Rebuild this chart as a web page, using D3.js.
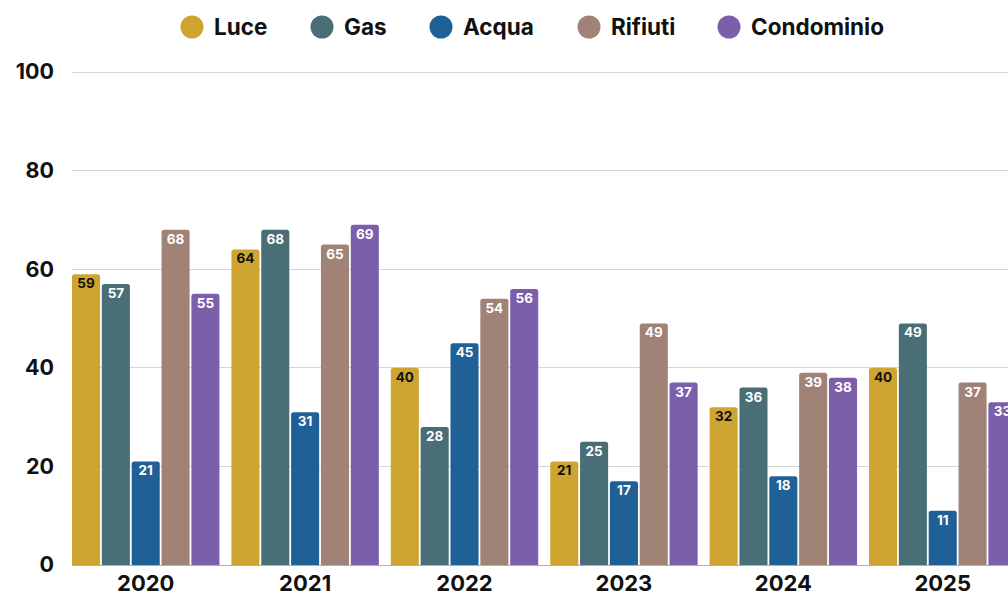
<!DOCTYPE html>
<html><head><meta charset="utf-8">
<script src="https://cdn.jsdelivr.net/npm/d3@7"></script>
<style>body{margin:0;background:#fff;overflow:hidden}svg{display:block;font-family:Inter,"DejaVu Sans",sans-serif}</style>
</head><body><svg id="c" width="1008" height="593"></svg>
<script>
const years = ["2020","2021","2022","2023","2024","2025"];
const seriesNames = ["Luce","Gas","Acqua","Rifiuti","Condominio"];
const colors = ["#CFA532","#4A6E75","#1F6096","#A08277","#7B5FAA"];
const luce = [59,64,40,21,32,40];
const gas = [57,68,28,25,36,49];
const acqua = [21,31,45,17,18,11];
const rifiuti = [68,65,54,49,39,37];
const condominio = [55,69,56,37,38,33];
const yTicks = [0,20,40,60,80,100];
const allSeries = [luce,gas,acqua,rifiuti,condominio];

(function(){
const svg = d3.select("#c");
const mLeft = 72, mTop = 72, mBottom = 565, step = 159.4, pIn = 0.075;
const x0 = d3.scaleBand().domain(years).range([mLeft, mLeft + step*(years.length - pIn)]).paddingInner(pIn).paddingOuter(0);
const x1 = d3.scaleBand().domain(seriesNames).range([0, x0.bandwidth()]).paddingInner(0.06);
const y = d3.scaleLinear().domain([0,100]).range([mBottom, mTop]);

svg.append("g").selectAll("line").data(yTicks).join("line")
  .attr("x1", mLeft).attr("x2", 1008).attr("y1", d=>y(d)).attr("y2", d=>y(d))
  .attr("stroke", d=> d===0 ? "#b0b0b0" : "#d6d6d6").attr("stroke-width",1).attr("shape-rendering","crispEdges");

const yAxis = d3.axisLeft(y).tickValues(yTicks).tickSize(0).tickPadding(0);
const ya = svg.append("g").attr("transform",`translate(54,0)`).call(yAxis);
ya.select(".domain").remove();
ya.selectAll("text").attr("font-size",21.5).attr("font-weight",700).attr("fill","#111").attr("font-family","Inter, sans-serif");

const xAxis = d3.axisBottom(x0).tickSize(0).tickPadding(0);
const xa = svg.append("g").attr("transform",`translate(0,${mBottom+10})`).call(xAxis);
xa.select(".domain").remove();
xa.selectAll("text").attr("font-size",22).attr("font-weight",700).attr("fill","#111").attr("font-family","Inter, sans-serif");

function barPath(x, yt, w, h, r){
  r = Math.min(r, h, w/2);
  return `M${x},${yt+h}V${yt+r}Q${x},${yt} ${x+r},${yt}H${x+w-r}Q${x+w},${yt} ${x+w},${yt+r}V${yt+h}Z`;
}

const data = [];
years.forEach((yr,i)=>seriesNames.forEach((s,j)=>data.push({yr, s, j, v: allSeries[j][i]})));

const g = svg.append("g");
g.selectAll("path").data(data).join("path")
  .attr("d", d=>barPath(x0(d.yr)+x1(d.s), y(d.v), x1.bandwidth(), mBottom - y(d.v), 2.5))
  .attr("fill", d=>colors[d.j]);

g.selectAll("text").data(data).join("text")
  .attr("x", d=>x0(d.yr)+x1(d.s)+x1.bandwidth()/2)
  .attr("y", d=>y(d.v)+14)
  .attr("text-anchor","middle")
  .attr("font-size",13.5).attr("font-weight",700)
  .attr("fill", d=> d.j===0 ? "#111" : "#fff")
  .text(d=>d.v);

const legX = [192,322,441,589,729];
const leg = svg.append("g");
seriesNames.forEach((s,j)=>{
  leg.append("circle").attr("cx",legX[j]).attr("cy",27).attr("r",11.5).attr("fill",colors[j]);
  leg.append("text").attr("x",legX[j]+22).attr("y",27).attr("dy","0.35em")
    .attr("font-size",22.5).attr("font-weight",700).attr("fill","#111").text(s);
});
})();
</script></body></html>
